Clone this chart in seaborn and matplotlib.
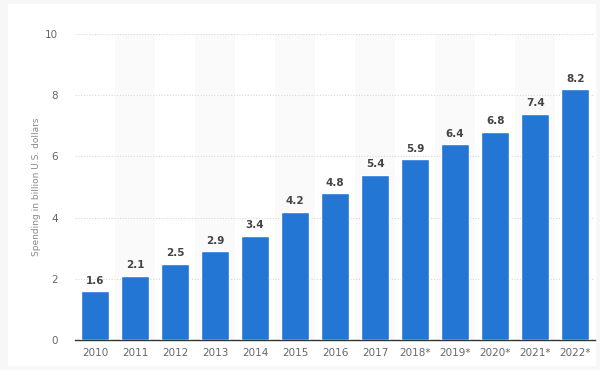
import pandas as pd
import matplotlib
matplotlib.use('Agg')
import matplotlib.pyplot as plt
import seaborn as sns
from matplotlib.patches import Rectangle

years = ['2010', '2011', '2012', '2013', '2014', '2015', '2016', '2017',
         '2018*', '2019*', '2020*', '2021*', '2022*']
spending = [1.6, 2.1, 2.5, 2.9, 3.4, 4.2, 4.8, 5.4, 5.9, 6.4, 6.8, 7.4, 8.2]
y_ticks = [0, 2, 4, 6, 8, 10]

df = pd.DataFrame({'year': years, 'spending': spending})

sns.set_style('white')
plt.rcParams['font.family'] = ['DejaVu Sans']

fig = plt.figure(figsize=(6, 3.7), dpi=100, facecolor='#f7f7f7')
# white card behind the chart
fig.patches.append(Rectangle((0.014, 0.01), 0.98, 0.978, transform=fig.transFigure,
                             facecolor='white', edgecolor='none', zorder=-5))
ax = fig.add_axes([0.125, 0.081, 0.867, 0.827])
ax.set_facecolor('none')
ax.set_zorder(2)

# faint alternating column bands
for i in range(1, len(years), 2):
    ax.axvspan(i - 0.5, i + 0.5, color='#fafafa', zorder=0, lw=0)

sns.barplot(data=df, x='year', y='spending', color='#2376d3', width=0.7,
            saturation=1, ax=ax, zorder=3)

for i, v in enumerate(spending):
    ax.text(i, v + 0.18, f'{v:.1f}', ha='center', va='bottom', fontsize=7.5,
            color='#444444', fontweight='semibold')

ax.set_ylim(0, 10)
ax.set_xlim(-0.5, len(years) - 0.5)
ax.set_yticks(y_ticks)
ax.yaxis.grid(True, linestyle=(0, (1, 1.5)), color='#d8d8d8', lw=0.8, zorder=1)
ax.set_axisbelow(True)
for s in ['top', 'right', 'left']:
    ax.spines[s].set_visible(False)
ax.spines['bottom'].set_color('#333333')
ax.spines['bottom'].set_linewidth(1)
ax.tick_params(axis='y', length=0, pad=12, labelsize=7.5, labelcolor='#666666')
ax.tick_params(axis='x', length=0, pad=6, labelsize=7.5, labelcolor='#666666')
ax.set_xlabel('')
ax.set_ylabel('Spending in billion U.S. dollars', fontsize=6.5, color='#888888', labelpad=3)

fig.savefig('out.png', dpi=100, facecolor=fig.get_facecolor())
